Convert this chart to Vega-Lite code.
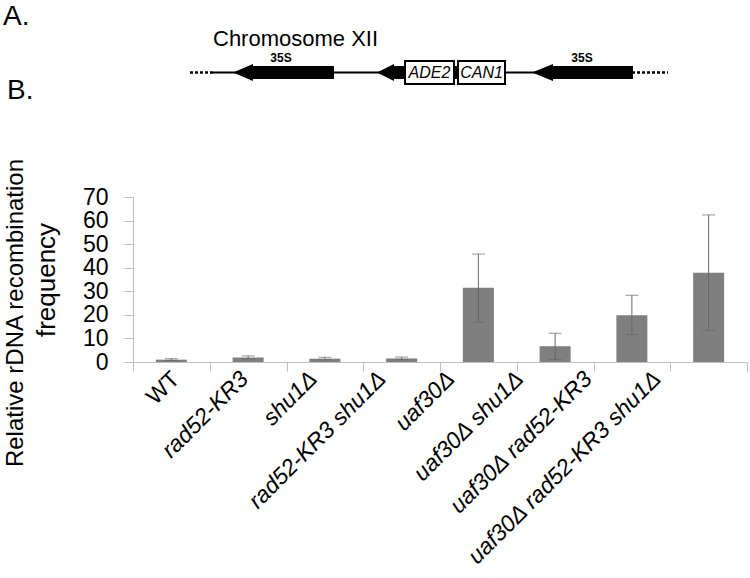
{
  "$schema": "https://vega.github.io/schema/vega-lite/v6.json",
  "width": 614,
  "height": 165,
  "autosize": {"type": "none"},
  "padding": {"left": 133, "top": 197, "right": 3, "bottom": 216},
  "background": "white",
  "config": {
    "view": {"stroke": null},
    "font": "Liberation Sans",
    "axisY": {
      "titleFont": "Liberation Sans",
      "titleFontSize": 26,
      "titleFontWeight": "normal",
      "titleColor": "#000000",
      "titlePadding": 23,
      "labelOverlap": false,
      "grid": false,
      "labelFont": "Liberation Sans",
      "labelFontSize": 23,
      "labelColor": "#000000",
      "labelPadding": 16,
      "tickSize": 9,
      "tickColor": "#bfbfbf",
      "domainColor": "#bfbfbf"
    }
  },
  "datasets": {
    "bars": [
      {"strain": "WT", "value": 1.0, "lo": 0.6, "hi": 1.4},
      {"strain": "rad52-KR3", "value": 1.9, "lo": 1.3, "hi": 2.6},
      {"strain": "shu1Δ", "value": 1.4, "lo": 0.9, "hi": 2.0},
      {"strain": "rad52-KR3 shu1Δ", "value": 1.5, "lo": 1.0, "hi": 2.1},
      {"strain": "uaf30Δ", "value": 31.5, "lo": 16.9, "hi": 45.8},
      {"strain": "uaf30Δ shu1Δ", "value": 6.7, "lo": 1.1, "hi": 12.2},
      {"strain": "uaf30Δ rad52-KR3", "value": 19.8, "lo": 11.6, "hi": 28.3},
      {"strain": "uaf30Δ rad52-KR3 shu1Δ", "value": 37.9, "lo": 13.4, "hi": 62.4}
    ],
    "lines": [
      {"kind": "dotted", "x": 19.0, "x2": 21.3, "y": 50.55},
      {"kind": "solid", "x": 21.3, "x2": 63.2, "y": 50.55},
      {"kind": "dotted", "x": 63.2, "x2": 66.8, "y": 50.55}
    ],
    "blocks": [
      {"kind": "arrow", "x": 25.2, "x2": 33.4, "y": 51.2, "y2": 49.9},
      {"kind": "arrow", "x": 39.3, "x2": 45.8, "y": 51.2, "y2": 49.9},
      {"kind": "arrow", "x": 55.2, "x2": 63.3, "y": 51.2, "y2": 49.9},
      {"kind": "box", "x": 40.5, "x2": 45.4, "y": 51.7, "y2": 49.4},
      {"kind": "box", "x": 45.8, "x2": 50.5, "y": 51.7, "y2": 49.4}
    ],
    "heads": [
      {"id": "left", "x": 23.3, "y": 50.55, "y2": 50.55},
      {"id": "left", "x": 25.3, "y": 51.4, "y2": 49.7},
      {"id": "mid", "x": 37.7, "y": 50.55, "y2": 50.55},
      {"id": "mid", "x": 39.4, "y": 51.4, "y2": 49.7},
      {"id": "right", "x": 53.2, "y": 50.55, "y2": 50.55},
      {"id": "right", "x": 55.3, "y": 51.4, "y2": 49.7}
    ],
    "texts": [
      {"role": "panel", "text": "A.", "x": 0.3, "y": 55.3},
      {"role": "panel", "text": "B.", "x": 0.7, "y": 47.9},
      {"role": "chrom", "text": "Chromosome XII", "x": 21.3, "y": 53.2},
      {"role": "rdna", "text": "35S", "x": 28.1, "y": 51.6},
      {"role": "rdna", "text": "35S", "x": 58.2, "y": 51.6},
      {"role": "gene", "text": "ADE2", "x": 42.95, "y": 50.55},
      {"role": "gene", "text": "CAN1", "x": 48.15, "y": 50.55},
      {"role": "ytitle", "text": "Relative rDNA recombination", "x": 1.6, "y": 26.5}
    ]
  },
  "layer": [
    {
      "data": {"name": "bars"},
      "encoding": {
        "x": {
          "field": "strain",
          "type": "nominal",
          "sort": null,
          "scale": {"paddingInner": 0, "paddingOuter": 0},
          "axis": {
            "title": null,
            "labelAngle": -45,
            "labelAlign": "right",
            "labelBaseline": "middle",
            "labelFont": "Liberation Sans",
            "labelFontSize": 23,
            "labelFontStyle": {"condition": {"test": "datum.value === 'WT'", "value": "normal"}, "value": "italic"},
            "labelColor": "#000000",
            "labelPadding": 4,
            "labelOffset": {"expr": "4 - 56 * datum.index"},
            "labelLimit": 400,
            "labelOverlap": false,
            "tickBand": "extent",
            "tickSize": 9,
            "tickColor": "#bfbfbf",
            "domainColor": "#bfbfbf",
            "grid": false
          }
        }
      },
      "layer": [
        {
          "mark": {"type": "bar", "size": 31, "color": "#7f7f7f"},
          "encoding": {
            "y": {
              "field": "value",
              "type": "quantitative",
              "scale": {"domain": [0, 70], "nice": false},
              "axis": {"title": "frequency", "values": [0, 10, 20, 30, 40, 50, 60, 70]}
            }
          }
        },
        {
          "mark": {"type": "rule", "color": "#666666", "strokeWidth": 1},
          "encoding": {
            "y": {"field": "lo", "type": "quantitative", "axis": {"title": "frequency", "values": [0, 10, 20, 30, 40, 50, 60, 70]}},
            "y2": {"field": "hi"}
          }
        },
        {
          "mark": {"type": "tick", "color": "#666666", "size": 13, "thickness": 1},
          "encoding": {"y": {"field": "lo", "type": "quantitative", "axis": {"title": "frequency", "values": [0, 10, 20, 30, 40, 50, 60, 70]}}}
        },
        {
          "mark": {"type": "tick", "color": "#666666", "size": 13, "thickness": 1},
          "encoding": {"y": {"field": "hi", "type": "quantitative", "axis": {"title": "frequency", "values": [0, 10, 20, 30, 40, 50, 60, 70]}}}
        }
      ]
    },
    {
      "encoding": {
        "x": {"field": "x", "type": "quantitative", "scale": {"domain": [13.3, 74.7], "nice": false, "zero": false}, "axis": null},
        "y": {"field": "y", "type": "quantitative", "scale": {"domain": [21.6, 38.1], "nice": false, "zero": false}, "axis": null}
      },
      "layer": [
        {
          "data": {"name": "lines"},
          "transform": [{"filter": "datum.kind === 'solid'"}],
          "mark": {"type": "rule", "color": "#000000", "strokeWidth": 2},
          "encoding": {"x2": {"field": "x2"}}
        },
        {
          "data": {"name": "lines"},
          "transform": [{"filter": "datum.kind === 'dotted'"}],
          "mark": {"type": "rule", "color": "#000000", "strokeWidth": 2.5, "strokeDash": [3, 2]},
          "encoding": {"x2": {"field": "x2"}}
        },
        {
          "data": {"name": "blocks"},
          "transform": [{"filter": "datum.kind === 'arrow'"}],
          "mark": {"type": "rect", "color": "#000000"},
          "encoding": {"x2": {"field": "x2"}, "y2": {"field": "y2"}}
        },
        {
          "data": {"name": "heads"},
          "mark": {"type": "area", "color": "#000000"},
          "encoding": {"y2": {"field": "y2"}, "detail": {"field": "id", "type": "nominal"}}
        },
        {
          "data": {"name": "blocks"},
          "transform": [{"filter": "datum.kind === 'box'"}],
          "mark": {"type": "rect", "fill": "#ffffff", "stroke": "#000000", "strokeWidth": 2},
          "encoding": {"x2": {"field": "x2"}, "y2": {"field": "y2"}}
        },
        {
          "data": {"name": "texts"},
          "transform": [{"filter": "datum.role === 'panel'"}],
          "mark": {"type": "text", "fontSize": 28, "align": "left", "baseline": "alphabetic", "color": "#000000"},
          "encoding": {"text": {"field": "text"}}
        },
        {
          "data": {"name": "texts"},
          "transform": [{"filter": "datum.role === 'chrom'"}],
          "mark": {"type": "text", "fontSize": 22, "align": "left", "baseline": "alphabetic", "color": "#000000"},
          "encoding": {"text": {"field": "text"}}
        },
        {
          "data": {"name": "texts"},
          "transform": [{"filter": "datum.role === 'rdna'"}],
          "mark": {"type": "text", "fontSize": 12, "fontWeight": "bold", "align": "center", "baseline": "alphabetic", "color": "#000000"},
          "encoding": {"text": {"field": "text"}}
        },
        {
          "data": {"name": "texts"},
          "transform": [{"filter": "datum.role === 'gene'"}],
          "mark": {"type": "text", "fontSize": 16, "fontStyle": "italic", "align": "center", "baseline": "middle", "color": "#000000"},
          "encoding": {"text": {"field": "text"}}
        },
        {
          "data": {"name": "texts"},
          "transform": [{"filter": "datum.role === 'ytitle'"}],
          "mark": {"type": "text", "fontSize": 24, "angle": 270, "align": "center", "baseline": "middle", "color": "#000000"},
          "encoding": {"text": {"field": "text"}}
        }
      ]
    }
  ],
  "resolve": {"scale": {"x": "independent", "y": "independent"}}
}
